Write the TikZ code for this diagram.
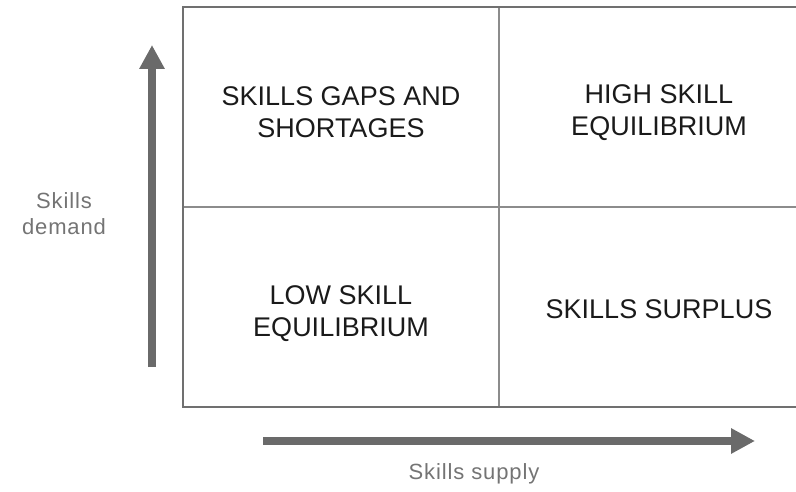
\documentclass[tikz,border=0pt]{standalone}
\usepackage{fontspec}
\setmainfont{Liberation Sans}
\usetikzlibrary{arrows.meta}
\definecolor{framegray}{HTML}{707070}
\definecolor{innergray}{HTML}{8C8C8C}
\definecolor{arrowgray}{HTML}{6A6A6A}
\definecolor{quadtext}{HTML}{1A1A1A}
\definecolor{axistext}{HTML}{747474}
\tikzset{
  quad/.style={align=center, text=quadtext, inner sep=0pt,
    font=\fontsize{27}{32}\selectfont},
  axislabel/.style={align=center, text=axistext, inner sep=0pt,
    font=\fontsize{22}{26}\selectfont\addfontfeature{LetterSpace=4}},
  frameline/.style={draw=framegray, line width=2pt},
  innerline/.style={draw=innergray, line width=1.3pt},
  axisarrow/.style={draw=arrowgray, line width=7.5pt,
    -{Triangle[width=24pt,length=24pt]}, fill=arrowgray}
}
\begin{document}
\begin{tikzpicture}[x=1pt,y=-1pt]
\useasboundingbox (0,0) rectangle (796,492);
% grid corners
\coordinate (tl) at (183,7);
\coordinate (bl) at (183,407);
\coordinate (tr) at (820,7);
\coordinate (br) at (820,407);
\coordinate (mt) at (499,7);
\coordinate (mb) at (499,407);
\coordinate (ml) at (183,207);
\coordinate (mr) at (820,207);
\draw[innerline] (mt) -- (mb);
\draw[innerline] (ml) -- (mr);
\draw[frameline] (tr) -- (tl) -- (bl) -- (br);
% quadrant labels
\node[quad] (q1) at (341,112) {SKILLS GAPS AND\\SHORTAGES};
\node[quad] (q2) at (659,113) {HIGH SKILL\\EQUILIBRIUM};
\node[quad] (q3) at (341,314) {LOW SKILL\\EQUILIBRIUM};
\node[quad] (q4) at (659,309) {SKILLS SURPLUS};
% axes
\coordinate (vs) at (152,367);
\coordinate (ve) at (152,45);
\coordinate (hs) at (263,441);
\coordinate (he) at (755,441);
\draw[axisarrow] (vs) -- (ve);
\draw[axisarrow] (hs) -- (he);
\node[axislabel] (ylab) at (64,214) {Skills\\demand};
\node[axislabel] (xlab) at (474,474) {Skills supply};
\end{tikzpicture}
\end{document}
